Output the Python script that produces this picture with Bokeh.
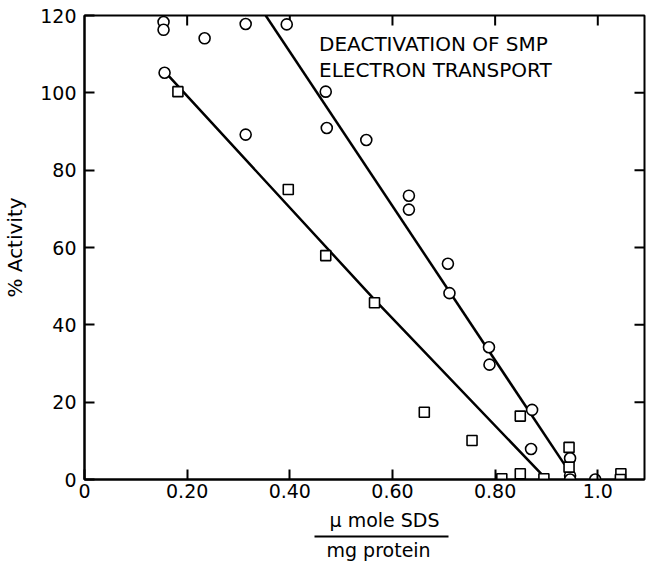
import math
from bokeh.plotting import figure
from bokeh.models import LinearAxis, FixedTicker, Label, Range1d, Title
from bokeh.embed import file_html
from bokeh.resources import INLINE

# ---- data ----
circle_x = [0.154, 0.154, 0.156, 0.234, 0.314, 0.314, 0.394, 0.470, 0.472, 0.549,
            0.632, 0.632, 0.708, 0.711, 0.788, 0.789, 0.872, 0.870, 0.946, 0.946,
            0.946, 0.995]
circle_y = [118.3, 116.3, 105.2, 114.1, 117.8, 89.2, 117.7, 100.3, 90.9, 87.8,
            73.4, 69.8, 55.8, 48.2, 34.2, 29.7, 18.0, 7.9, 5.5, 1.0,
            0.0, 0.0]
square_x = [0.182, 0.397, 0.470, 0.565, 0.662, 0.755, 0.813, 0.849, 0.849, 0.895,
            0.944, 0.944, 1.045, 1.044]
square_y = [100.3, 75.0, 57.9, 45.7, 17.4, 10.1, 0.2, 16.4, 1.5, 0.2,
            8.3, 3.2, 1.5, 0.0]
fit_circle_x = [0.353, 0.935]
fit_circle_y = [120.0, 3.9]
fit_square_x = [0.163, 0.565, 0.896]
fit_square_y = [104.5, 46.5, 0.6]

x_min, x_max = 0.0, 1.091
y_min, y_max = 0.0, 120.0
x_ticks = [0, 0.2, 0.4, 0.6, 0.8, 1.0]
x_tick_labels = ["0", "0.20", "0.40", "0.60", "0.80", "1.0"]
y_ticks = [0, 20, 40, 60, 80, 100, 120]
y_tick_labels = ["0", "20", "40", "60", "80", "100", "120"]
top_ticks = [0.2, 0.4, 0.6, 0.8, 1.0]
right_ticks = [20, 40, 60, 80, 100]

title_lines = ["DEACTIVATION OF SMP", "ELECTRON TRANSPORT"]
x_label_top = "\u03bc mole SDS"
x_label_bottom = "mg protein"
y_label = "% Activity"

FONT = "DejaVu Sans"

p = figure(width=647, height=561,
           x_range=Range1d(x_min, x_max), y_range=Range1d(y_min, y_max),
           output_backend="svg", toolbar_location=None,
           min_border_left=81, min_border_right=3,
           min_border_top=15, min_border_bottom=82)
p.outline_line_color = "black"
p.outline_line_width = 2
p.xgrid.visible = False
p.ygrid.visible = False
p.background_fill_color = "white"
p.border_fill_color = "white"


def style_axis(ax, ticks, labels):
    ax.ticker = FixedTicker(ticks=ticks)
    ax.major_tick_in = 10
    ax.major_tick_out = 0
    ax.minor_tick_in = 0
    ax.minor_tick_out = 0
    ax.axis_line_width = 2
    ax.major_tick_line_width = 2
    ax.axis_line_color = "black"
    ax.major_tick_line_color = "black"
    ax.major_label_overrides = {t: l for t, l in zip(ticks, labels)}
    ax.major_label_text_font = FONT
    ax.major_label_text_font_size = "19px"
    ax.major_label_text_color = "black"


bx = p.xaxis[0]
style_axis(bx, x_ticks, x_tick_labels)
bx.major_label_standoff = 4

ly = p.yaxis[0]
style_axis(ly, y_ticks, y_tick_labels)
ly.major_label_standoff = 8
ly.axis_label = y_label
ly.axis_label_text_font = FONT
ly.axis_label_text_font_size = "20px"
ly.axis_label_text_font_style = "normal"
ly.axis_label_text_color = "black"
ly.axis_label_standoff = 10

# x-axis label written as a fraction: numerator, bar, denominator
p.add_layout(Title(text=x_label_top, align="left", offset=245, standoff=12,
                   text_font=FONT, text_font_size="19px",
                   text_font_style="normal", text_color="black"), "below")

bar_axis = LinearAxis(ticker=FixedTicker(ticks=[]), bounds=(0.448, 0.709))
bar_axis.major_tick_in = 0
bar_axis.major_tick_out = 0
bar_axis.minor_tick_in = 0
bar_axis.minor_tick_out = 0
bar_axis.major_label_standoff = 0
bar_axis.axis_line_color = "black"
bar_axis.axis_line_width = 2
p.add_layout(bar_axis, "below")

p.add_layout(Title(text=x_label_bottom, align="left", offset=242, standoff=0,
                   text_font=FONT, text_font_size="19px",
                   text_font_style="normal", text_color="black"), "below")

# inward ticks on the top and right frame edges (half of each dash is clipped)
p.scatter(top_ticks, [y_max] * len(top_ticks), marker="dash", size=20,
          angle=math.pi / 2, line_color="black", line_width=2)
p.scatter([x_max] * len(right_ticks), right_ticks, marker="dash", size=20,
          line_color="black", line_width=2)

# fitted lines
p.line(fit_circle_x, fit_circle_y, line_color="black", line_width=2.5)
p.line(fit_square_x, fit_square_y, line_color="black", line_width=2.5)

# data points
p.scatter(circle_x, circle_y, marker="circle", size=11, fill_color="white",
          line_color="black", line_width=1.6)
p.scatter(square_x, square_y, marker="square", size=10, fill_color="white",
          line_color="black", line_width=1.6)

# in-plot title
p.add_layout(Label(x=0.457, y=112.7, text=title_lines[0], text_font=FONT,
                   text_font_size="20px", text_color="black",
                   text_baseline="alphabetic", text_align="left"))
p.add_layout(Label(x=0.457, y=105.8, text=title_lines[1], text_font=FONT,
                   text_font_size="20px", text_color="black",
                   text_baseline="alphabetic", text_align="left"))

open("out.html", "w").write(file_html(p, INLINE))
